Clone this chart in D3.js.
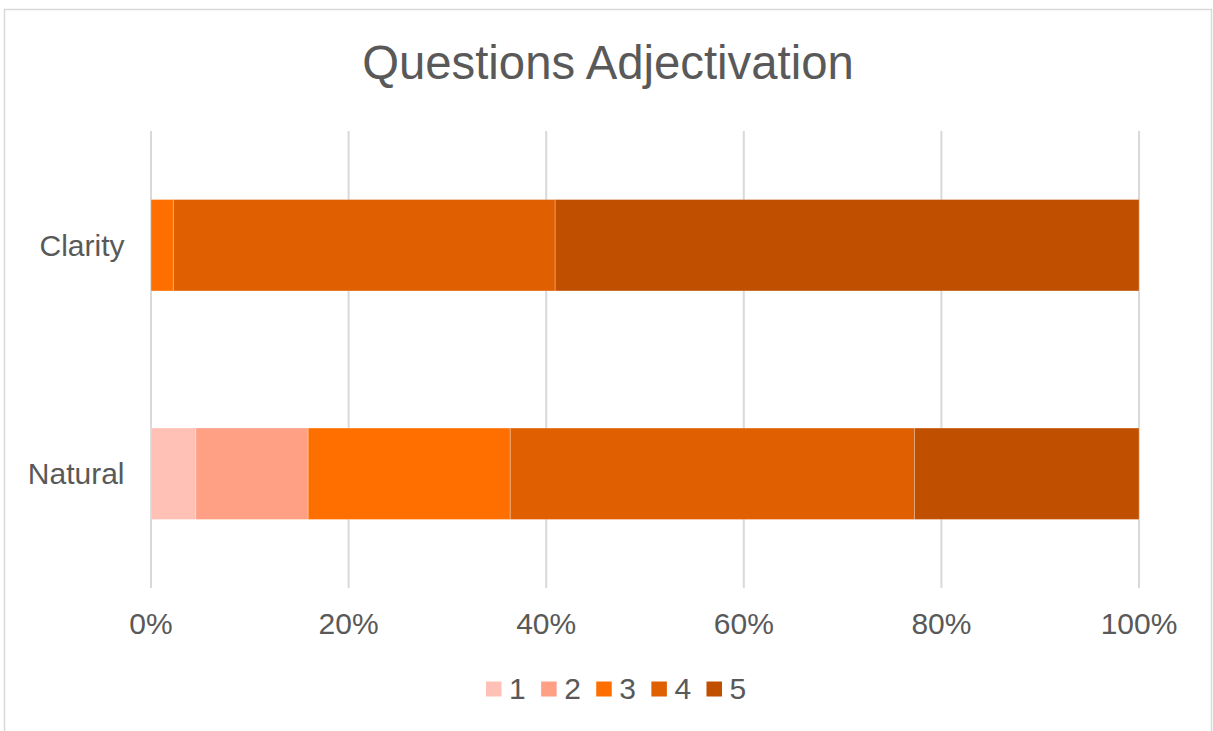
<!DOCTYPE html>
<html>
<head>
<meta charset="utf-8">
<script src="https://cdn.jsdelivr.net/npm/d3@7"></script>
<style>
  html, body { margin: 0; padding: 0; background: #fff; }
  svg { display: block; }
  text { font-family: "Liberation Sans", Arial, sans-serif; fill: #595959; }
</style>
</head>
<body>
<svg id="chart" width="1213" height="731"></svg>
<script>
// Data (counts; shown as 100% stacked)
const title = "Questions Adjectivation";
const categories = ["Clarity", "Natural"];
const seriesNames = ["1", "2", "3", "4", "5"];
const clarityValues = [0, 0, 1, 17, 26];
const naturalValues = [2, 5, 9, 18, 10];
const seriesColors = ["#FFC1B5", "#FF9F84", "#FF6F00", "#E05F00", "#C04F00"];
const tickValues = [0, 0.2, 0.4, 0.6, 0.8, 1.0];
const tickLabels = ["0%", "20%", "40%", "60%", "80%", "100%"];

const valuesByCategory = { "Clarity": clarityValues, "Natural": naturalValues };

const svg = d3.select("#chart");
const W = 1213, H = 731;
const plot = { left: 151, right: 1139, top: 131, bottom: 588 };

// Outer chart border (top, left, right)
svg.append("path")
  .attr("d", `M4.5,${H} L4.5,9.5 L1211.5,9.5 L1211.5,${H}`)
  .attr("fill", "none").attr("stroke", "#D9D9D9").attr("stroke-width", 1.5);

// Title
svg.append("text")
  .attr("x", 608).attr("y", 79)
  .attr("text-anchor", "middle")
  .style("font-size", "47.3px")
  .text(title);

const x = d3.scaleLinear().domain([0, 1]).range([plot.left, plot.right]);
const y = d3.scaleBand().domain(categories).range([plot.top, plot.bottom])
  .paddingInner(0.6).paddingOuter(0.3);

// Gridlines
svg.append("g").selectAll("line").data(tickValues).join("line")
  .attr("x1", d => x(d)).attr("x2", d => x(d))
  .attr("y1", plot.top).attr("y2", plot.bottom)
  .attr("stroke", "#D9D9D9").attr("stroke-width", 2);

// Stacked data
const rows = categories.map(c => {
  const vals = valuesByCategory[c];
  const total = d3.sum(vals);
  const row = { category: c };
  seriesNames.forEach((s, i) => row[s] = vals[i] / total);
  return row;
});
const stack = d3.stack().keys(seriesNames);
const stacked = stack(rows);

const color = d3.scaleOrdinal().domain(seriesNames).range(seriesColors);

svg.append("g").selectAll("g").data(stacked).join("g")
  .attr("fill", d => color(d.key))
  .selectAll("rect").data(d => d.filter(p => p[1] - p[0] > 0)).join("rect")
  .attr("x", d => x(d[0]))
  .attr("width", d => x(d[1]) - x(d[0]))
  .attr("y", d => y(d.data.category))
  .attr("height", y.bandwidth())
  .attr("stroke", "rgba(255,255,255,0.25)")
  .attr("stroke-width", 1);

// Category labels
svg.append("g").selectAll("text").data(categories).join("text")
  .attr("x", 124.5)
  .attr("y", d => y(d) + y.bandwidth() / 2 + 10.5)
  .attr("text-anchor", "end")
  .style("font-size", "30px")
  .text(d => d);

// X axis tick labels
svg.append("g").selectAll("text").data(tickValues).join("text")
  .attr("x", d => x(d))
  .attr("y", 634)
  .attr("text-anchor", "middle")
  .style("font-size", "30px")
  .text((d, i) => tickLabels[i]);

// Legend
const legendX = d3.scalePoint().domain(seriesNames).range([486, 706.5]);
const lg = svg.append("g").selectAll("g").data(seriesNames).join("g")
  .attr("transform", d => `translate(${legendX(d)},0)`);
lg.append("rect")
  .attr("x", 0).attr("y", 681.5).attr("width", 15.5).attr("height", 15)
  .attr("fill", d => color(d));
lg.append("text")
  .attr("x", 23).attr("y", 699)
  .style("font-size", "30px")
  .text(d => d);
</script>
</body>
</html>
